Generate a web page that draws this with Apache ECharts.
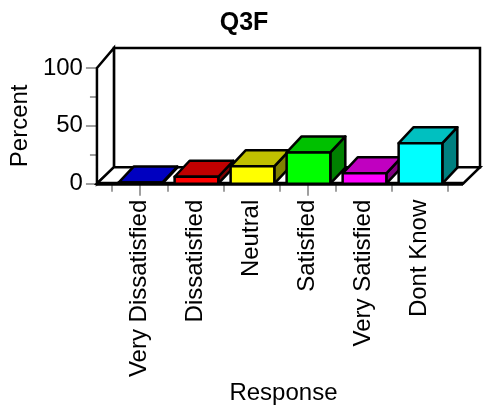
<!doctype html>
<html>
<head>
<meta charset="utf-8">
<title>Q3F</title>
<script src="https://cdn.jsdelivr.net/npm/echarts@6/dist/echarts.min.js"></script>
<style>
  html, body { margin: 0; padding: 0; background: #fff; }
  #main { width: 488px; height: 406px; }
</style>
</head>
<body>
<div id="main"></div>
<script>
// data
var categories = ['Very Dissatisfied', 'Dissatisfied', 'Neutral', 'Satisfied', 'Very Satisfied', 'Dont Know'];
var percents = [1, 6, 15, 27, 9, 35];
var yTicks = [0, 50, 100];

// bar colours: front / top / side
var frontColors = ['#0000ff', '#ff0000', '#ffff00', '#00ff00', '#ff00ff', '#00ffff'];
var topColors   = ['#0000c0', '#c00000', '#c0c000', '#00c000', '#c000c0', '#00c0c0'];
var sideColors  = ['#000080', '#800000', '#808000', '#008000', '#800080', '#008080'];

var FONT = '"Liberation Sans", Arial, sans-serif';

var myChart = echarts.init(document.getElementById('main'));

// 3d frame: left wall, back wall, floor
function renderFrame(params, api) {
  var bw = api.size([1, 0])[0];
  var p0 = api.coord([0, 0]);
  var p5 = api.coord([categories.length - 1, 0]);
  var top = api.coord([0, yTicks[yTicks.length - 1]])[1];
  var xl = p0[0] - bw / 2 - 14.5;
  var xr = p5[0] + bw / 2 + 15.5;
  var yb = p0[1];
  var dx = 17, dy = -16.5;
  var st = { fill: '#fff', stroke: '#000', lineWidth: 2.5 };
  return {
    type: 'group',
    children: [
      { type: 'polygon', shape: { points: [[xl + dx, top - 20], [xr + dx, top - 20], [xr + dx, yb + dy], [xl + dx, yb + dy]] }, style: st },
      { type: 'polygon', shape: { points: [[xl, top], [xl + dx, top - 20], [xl + dx, yb + dy], [xl, yb]] }, style: st },
      { type: 'polygon', shape: { points: [[xl, yb], [xl + dx, yb + dy], [xr + dx, yb + dy], [xr, yb]] }, style: st },
      { type: 'line', shape: { x1: xl, y1: yb, x2: xr, y2: yb }, style: { stroke: '#000', lineWidth: 4 } }
    ]
  };
}

function renderBar(params, api) {
  var i = api.value(0);
  var base = api.coord([i, 0]);
  var tp = api.coord([i, api.value(1)]);
  var w = api.size([1, 0])[0] * 0.78;
  var x0 = base[0] - w / 2 + 1, x1 = base[0] + w / 2 + 1;
  var y0 = base[1], y1 = tp[1];
  var dx = 15, dy = -16;
  var ln = { stroke: '#000', lineWidth: 2.5, lineJoin: 'round' };
  return {
    type: 'group',
    children: [
      { type: 'polygon', shape: { points: [[x1, y1], [x1 + dx, y1 + dy], [x1 + dx, y0 + dy], [x1, y0]] },
        style: Object.assign({ fill: sideColors[i] }, ln) },
      { type: 'polygon', shape: { points: [[x0, y1], [x0 + dx, y1 + dy], [x1 + dx, y1 + dy], [x1, y1]] },
        style: Object.assign({ fill: topColors[i] }, ln) },
      { type: 'rect', shape: { x: x0, y: y1, width: x1 - x0, height: y0 - y1 },
        style: Object.assign({ fill: frontColors[i] }, ln) }
    ]
  };
}

var option = {
  animation: false,
  title: {
    text: 'Q3F',
    left: 'center',
    top: 6,
    textStyle: { fontSize: 25, fontWeight: 'bold', color: '#000', fontFamily: FONT }
  },
  grid: { left: 106.5, right: 40.5, top: 68, bottom: 222 },
  xAxis: [
    {
      type: 'category',
      data: categories,
      position: 'bottom',
      axisLine: { show: false },
      axisTick: { show: true, length: 8, lineStyle: { color: '#808080', width: 1.5 } },
      axisLabel: { rotate: 90, interval: 0, margin: 16, fontSize: 24, color: '#000', fontFamily: FONT },
      name: 'Response',
      nameLocation: 'middle',
      nameGap: 194,
      nameTextStyle: { fontSize: 24, color: '#000', fontFamily: FONT, padding: [0, 0, 0, 8] }
    },
    {
      type: 'category',
      data: categories,
      position: 'bottom',
      axisLine: { show: false },
      axisTick: { show: true, alignWithLabel: true, length: 12, lineStyle: { color: '#808080', width: 1.5 } },
      axisLabel: { show: false }
    }
  ],
  yAxis: {
    type: 'value',
    min: yTicks[0],
    max: yTicks[yTicks.length - 1],
    interval: 50,
    position: 'left',
    offset: 14.5,
    axisLine: { show: true, lineStyle: { color: '#000', width: 3 } },
    axisTick: { show: true, length: 11, lineStyle: { color: '#808080', width: 1.5 } },
    minorTick: { show: true, splitNumber: 2, length: 7, lineStyle: { color: '#808080', width: 1.5 } },
    splitLine: { show: false },
    axisLabel: { fontSize: 24, color: '#000', margin: 14, fontFamily: FONT },
    name: 'Percent',
    nameLocation: 'middle',
    nameGap: 52,
    nameTextStyle: { fontSize: 24, color: '#000', fontFamily: FONT }
  },
  series: [
    {
      type: 'custom',
      renderItem: renderFrame,
      data: [[0, 0]],
      clip: false,
      silent: true,
      z: 1
    },
    {
      type: 'custom',
      renderItem: renderBar,
      data: categories.map(function (c, i) { return [i, percents[i]]; }),
      clip: false,
      z: 3
    }
  ]
};
myChart.setOption(option);
</script>
</body>
</html>
